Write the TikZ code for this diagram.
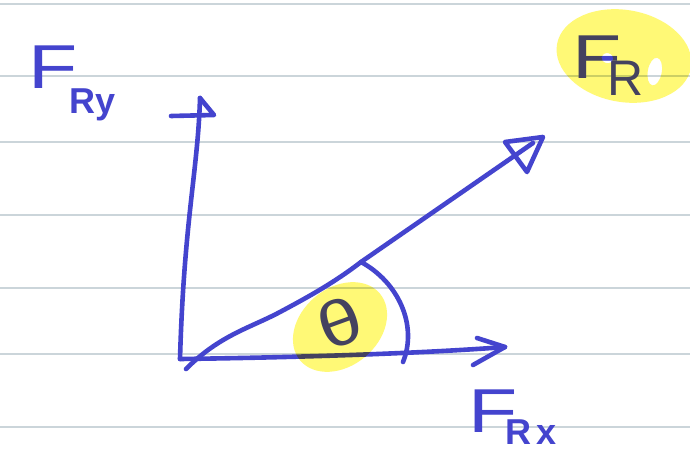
\documentclass[tikz,border=0pt]{standalone}
\usepackage{fontspec}
\setmainfont{Liberation Sans}
\usepackage{graphicx}
\definecolor{pen}{RGB}{68,68,206}
\definecolor{rule}{RGB}{203,213,218}
\definecolor{hilite}{RGB}{255,249,118}
\tikzset{
  ink/.style={draw=pen, line width=4.6pt, line cap=round, line join=round},
  ruled/.style={draw=rule, line width=1.8pt},
  lab/.style={text=pen, inner sep=0pt, anchor=base west},
}
\begin{document}
\begin{tikzpicture}[x=1pt,y=-1pt]
\useasboundingbox (0,0) rectangle (690,452);
\fill[white] (0,0) rectangle (690,452);
% ruled lines
\foreach \yy in {4,76,142,215,288,354,427}
  \draw[ruled] (0,\yy) -- (690,\yy);

% coordinates
\coordinate (O) at (180,359);
\coordinate (Ytip) at (200,98);
\coordinate (Xtip) at (505,347);
\coordinate (Rstart) at (186,369);
\coordinate (Rbend) at (361,262);
\coordinate (Rtip) at (533,143);
\coordinate (Aend) at (403,362);

% vertical axis
\draw[ink] (O) .. controls (184,220) and (198,170) .. (Ytip);
\draw[ink] (171,116) -- (214,115) -- (Ytip);
% horizontal axis
\draw[ink] (O) .. controls (330,357) and (440,352) .. (Xtip);
\draw[ink] (477,338) -- (Xtip) -- (473,365);
% resultant
\draw[ink] (Rstart) .. controls (220,335) and (250,328) .. (280,312)
  .. controls (310,296) and (335,282) .. (Rbend) -- (Rtip);
\draw[ink] (505,142) -- (543,137) -- (527,172) -- cycle;
% angle arc
\draw[ink] (Rbend) .. controls (398,282) and (418,325) .. (Aend);

% labels
\node[lab] (fry) at (28,88) {\fontsize{62}{62}\selectfont\scalebox{1.3}[1]{F}\kern-8pt\raisebox{-25pt}{\fontsize{36}{36}\selectfont\bfseries Ry}};
\node[lab] (frx) at (468,432) {\fontsize{62}{62}\selectfont\scalebox{1.3}[1]{F}\kern-12pt\raisebox{-12pt}{\fontsize{36}{36}\selectfont\bfseries R\kern5pt x}};
\node[lab] (fr) at (572,78) {\fontsize{62}{62}\selectfont\scalebox{1.3}[1]{F}\kern-14pt\raisebox{-17pt}{\fontsize{50}{50}\selectfont R}};
\node[text=pen, inner sep=0pt, rotate=20, xscale=1.2] (theta) at (340,323) {\fontsize{64}{64}\selectfont θ};

% highlighter
\begin{scope}[blend mode=multiply]
  \fill[hilite, rotate around={40:(340,327)}] (340,327) ellipse [x radius=52, y radius=39];
  \fill[hilite, even odd rule, rotate around={-10:(624,56)}] (624,56) ellipse [x radius=68, y radius=46]
     (608,61) ellipse [x radius=6, y radius=5]
     (657,66) ellipse [x radius=7, y radius=14];
\end{scope}
\end{tikzpicture}
\end{document}
